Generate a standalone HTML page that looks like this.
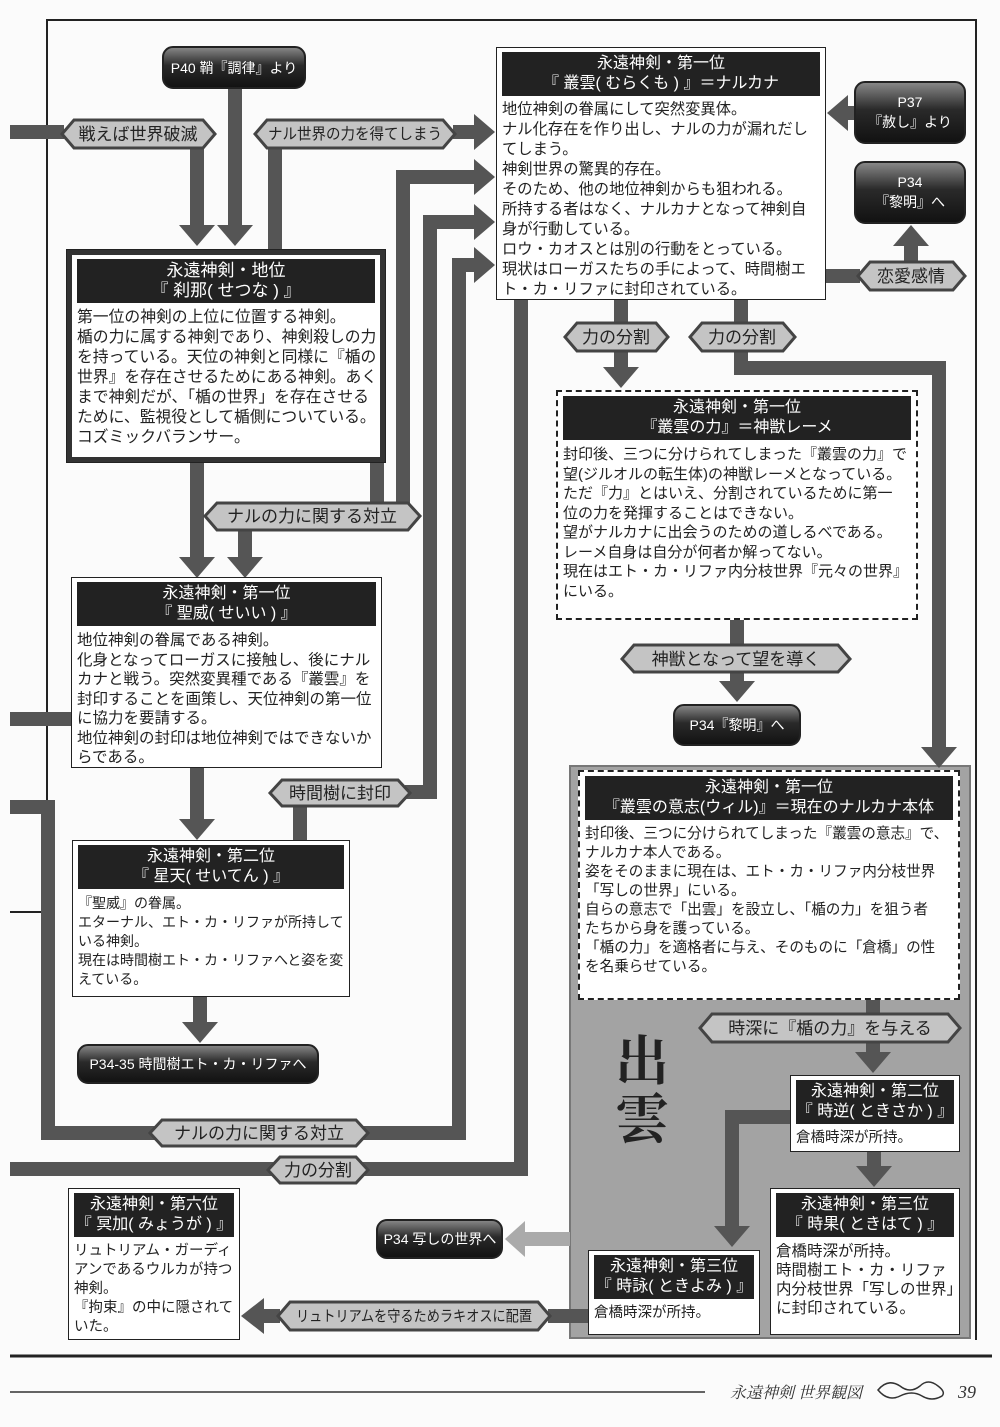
<!DOCTYPE html>
<html><head><meta charset="utf-8">
<style>
*{margin:0;padding:0;box-sizing:border-box}
body{width:1000px;height:1427px;background:#fbfbfb;position:relative;overflow:hidden;font-family:"Liberation Sans","Noto Sans CJK JP",sans-serif;color:#222}
svg{position:absolute;left:0;top:0}
.box{position:absolute;background:#fff;border:1.5px solid #222;padding:4px 5px;z-index:2}
.thick{border:5px solid #333;outline:1px solid #222}
.dash{border:2.5px dashed #222}
.hd{background:#222;color:#fff;text-align:center;font-size:16px;line-height:20px;padding:2px 0;white-space:nowrap}
.bd{white-space:nowrap;margin-top:5px}
</style></head><body>
<svg width="1000" height="1427" viewBox="0 0 1000 1427">
<defs>
<linearGradient id="bg" x1="0" y1="0" x2="0" y2="1">
<stop offset="0" stop-color="#8a8a8a"/><stop offset="0.45" stop-color="#2a2a2a"/><stop offset="1" stop-color="#111"/>
</linearGradient>
</defs>
<path d="M47 1110 V20 H976 V1340" fill="none" stroke="#222" stroke-width="2"/>
<line x1="10" y1="1356" x2="992" y2="1356" stroke="#222" stroke-width="3"/>
<line x1="10" y1="1392" x2="705" y2="1392" stroke="#333" stroke-width="1.5"/>
<line x1="10" y1="912" x2="47" y2="912" stroke="#222" stroke-width="2"/>
<rect x="570" y="766" width="400" height="572" fill="#a3a3a3" stroke="#777" stroke-width="2"/>
<text x="642" y="1080" font-family="Liberation Serif,'Noto Serif CJK SC',serif" font-size="54" font-weight="bold" text-anchor="middle" fill="#222">出</text>
<text x="642" y="1138" font-family="Liberation Serif,'Noto Serif CJK SC',serif" font-size="54" font-weight="bold" text-anchor="middle" fill="#222">雲</text>
<g fill="none" stroke="#555" stroke-width="14" stroke-linejoin="miter">
<path d="M10 132 H64"/>
<path d="M197 146 V228"/>
<path d="M235 86 V228"/>
<path d="M275 146 V252"/>
<path d="M453 132 H476"/>
<path d="M403 505 V177 H476"/>
<path d="M405 792 H430 V222 H476"/>
<path d="M10 807 H48 V1133 H459 V265 H476"/>
<path d="M10 1169 H521 V300"/>
<path d="M197 462 V560"/>
<path d="M377 462 V505"/>
<path d="M245 528 V560"/>
<path d="M197 768 V822"/>
<path d="M300 805 V842"/>
<path d="M200 997 V1025"/>
<path d="M10 719 H72"/>
<path d="M826 276 H860"/>
<path d="M911 262 V244"/>
<path d="M856 113 H845"/>
<path d="M621 300 V370"/>
<path d="M741 300 V368 H939 V750"/>
<path d="M737 620 V683"/>
<path d="M873 1000 V1055"/>
<path d="M874 1152 V1168"/>
<path d="M790 1117 H732 V1228"/>
<path d="M588 1316 H548"/>
<path d="M280 1316 H262"/>
</g>
<path d="M570 1239 H522" fill="none" stroke="#aaa" stroke-width="14"/>
<g fill="#555">
<polygon points="179,225 215,225 197,246"/>
<polygon points="217,225 253,225 235,246"/>
<polygon points="474,114 474,150 495,132"/>
<polygon points="474,159 474,195 495,177"/>
<polygon points="474,204 474,240 495,222"/>
<polygon points="474,247 474,283 495,265"/>
<polygon points="179,557 215,557 197,578"/>
<polygon points="227,557 263,557 245,578"/>
<polygon points="179,819 215,819 197,840"/>
<polygon points="182,1022 218,1022 200,1043"/>
<polygon points="893,246 929,246 911,225"/>
<polygon points="848,95 848,131 827,113"/>
<polygon points="603,367 639,367 621,388"/>
<polygon points="921,747 957,747 939,768"/>
<polygon points="719,681 755,681 737,702"/>
<polygon points="855,1052 891,1052 873,1073"/>
<polygon points="856,1166 892,1166 874,1187"/>
<polygon points="714,1226 750,1226 732,1247"/>
<polygon points="264,1298 264,1334 241,1316"/>
</g>
<polygon points="525,1221 525,1257 505,1239" fill="#aaa"/>
<g stroke="#444" stroke-width="3" fill="#c4c4c4">
<polygon points="62,134 74,120 203,120 215,134 203,148 74,148"/>
<polygon points="255,134 267,120 443,120 455,134 443,148 267,148"/>
<polygon points="205,516 217,503 408,503 420,516 408,530 217,530"/>
<polygon points="270,793 282,780 398,780 410,793 398,806 282,806"/>
<polygon points="150,1133 162,1120 356,1120 368,1133 356,1146 162,1146"/>
<polygon points="268,1170 280,1157 356,1157 368,1170 356,1183 280,1183"/>
<polygon points="565,337 577,323 656,323 668,337 656,351 577,351"/>
<polygon points="690,337 702,323 783,323 795,337 783,351 702,351"/>
<polygon points="858,276 870,262 953,262 965,276 953,290 870,290"/>
<polygon points="622,659 634,645 838,645 850,659 838,672 634,672"/>
<polygon points="700,1028 712,1014 948,1014 960,1028 948,1042 712,1042"/>
<polygon points="278,1316 290,1302 538,1302 550,1316 538,1330 290,1330"/>
</g>
<g font-size="17" fill="#222" text-anchor="middle" font-family="Liberation Sans,'Noto Sans CJK JP',sans-serif">
<text x="138" y="140">戦えば世界破滅</text>
<text x="355" y="139" font-size="15.5" textLength="174" lengthAdjust="spacingAndGlyphs">ナル世界の力を得てしまう</text>
<text x="312" y="522">ナルの力に関する対立</text>
<text x="340" y="799">時間樹に封印</text>
<text x="259" y="1139">ナルの力に関する対立</text>
<text x="318" y="1176">力の分割</text>
<text x="616" y="343">力の分割</text>
<text x="742" y="343">力の分割</text>
<text x="911" y="282">恋愛感情</text>
<text x="736" y="665">神獣となって望を導く</text>
<text x="830" y="1034">時深に『楯の力』を与える</text>
<text x="414" y="1321" font-size="15" textLength="236" lengthAdjust="spacingAndGlyphs">リュトリアムを守るためラキオスに配置</text>
</g>
<g stroke="#222" stroke-width="2" fill="url(#bg)">
<rect x="163" y="47" width="142" height="41" rx="10"/>
<rect x="855" y="82" width="110" height="61" rx="10"/>
<rect x="855" y="162" width="110" height="61" rx="10"/>
<rect x="674" y="705" width="126" height="40" rx="10"/>
<rect x="78" y="1045" width="240" height="38" rx="10"/>
<rect x="377" y="1220" width="125" height="38" rx="10"/>
</g>
<g font-size="14" fill="#fff" text-anchor="middle" font-family="Liberation Sans,'Noto Sans CJK JP',sans-serif">
<text x="234" y="73">P40 鞘『調律』より</text>
<text x="910" y="107">P37</text><text x="910" y="127">『赦し』より</text>
<text x="910" y="187">P34</text><text x="910" y="207">『黎明』へ</text>
<text x="737" y="730">P34『黎明』へ</text>
<text x="198" y="1069">P34-35 時間樹エト・カ・リファへ</text>
<text x="440" y="1244">P34 写しの世界へ</text>
</g>
<text x="730" y="1398" font-family="Liberation Serif,'Noto Serif CJK JP',serif" font-style="italic" font-size="16" fill="#333">永遠神剣 世界観図</text>
<path d="M878 1390 q10 -12 22 -4 q10 8 20 0 q8 -8 18 0 q8 6 4 10 q-10 6 -20 0 q-10 -6 -22 0 q-12 6 -22 -6z" fill="none" stroke="#333" stroke-width="1.5"/>
<text x="958" y="1398" font-family="Liberation Serif,serif" font-style="italic" font-size="18" fill="#333">39</text>
</svg>

<div class="box thick" style="left:67px;top:250px;width:318px;height:212px;padding:4px 5px">
<div class="hd" style="font-size:17px">永遠神剣・地位<br>『 刹那( せつな ) 』</div>
<div class="bd" style="font-size:15.8px;line-height:20px">第一位の神剣の上位に位置する神剣。<br>楯の力に属する神剣であり、神剣殺しの力<br>を持っている。天位の神剣と同様に『楯の<br>世界』を存在させるためにある神剣。あく<br>まで神剣だが、「楯の世界」を存在させる<br>ために、監視役として楯側についている。<br>コズミックバランサー。</div>
</div>
<div class="box" style="left:71px;top:577px;width:311px;height:191px">
<div class="hd">永遠神剣・第一位<br>『 聖威( せいい ) 』</div>
<div class="bd" style="font-size:15.5px;line-height:19.5px">地位神剣の眷属である神剣。<br>化身となってローガスに接触し、後にナル<br>カナと戦う。突然変異種である『叢雲』を<br>封印することを画策し、天位神剣の第一位<br>に協力を要請する。<br>地位神剣の封印は地位神剣ではできないか<br>らである。</div>
</div>
<div class="box" style="left:72px;top:840px;width:278px;height:157px">
<div class="hd">永遠神剣・第二位<br>『 星天( せいてん ) 』</div>
<div class="bd" style="font-size:14px;line-height:19px">『聖威』の眷属。<br>エターナル、エト・カ・リファが所持して<br>いる神剣。<br>現在は時間樹エト・カ・リファへと姿を変<br>えている。</div>
</div>
<div class="box" style="left:68px;top:1188px;width:172px;height:152px">
<div class="hd">永遠神剣・第六位<br>『 冥加( みょうが ) 』</div>
<div class="bd" style="font-size:14.5px;line-height:19px">リュトリアム・ガーディ<br>アンであるウルカが持つ<br>神剣。<br>『拘束』の中に隠されて<br>いた。</div>
</div>
<div class="box" style="left:496px;top:47px;width:330px;height:253px">
<div class="hd">永遠神剣・第一位<br>『 叢雲( むらくも ) 』＝ナルカナ</div>
<div class="bd" style="font-size:15.3px;line-height:20px;margin-top:4px">地位神剣の眷属にして突然変異体。<br>ナル化存在を作り出し、ナルの力が漏れだし<br>てしまう。<br>神剣世界の驚異的存在。<br>そのため、他の地位神剣からも狙われる。<br>所持する者はなく、ナルカナとなって神剣自<br>身が行動している。<br>ロウ・カオスとは別の行動をとっている。<br>現状はローガスたちの手によって、時間樹エ<br>ト・カ・リファに封印されている。</div>
</div>
<div class="box dash" style="left:556px;top:390px;width:362px;height:230px">
<div class="hd">永遠神剣・第一位<br>『叢雲の力』＝神獣レーメ</div>
<div class="bd" style="font-size:15px;line-height:19.5px">封印後、三つに分けられてしまった『叢雲の力』で<br>望(ジルオルの転生体)の神獣レーメとなっている。<br>ただ『力』とはいえ、分割されているために第一<br>位の力を発揮することはできない。<br>望がナルカナに出会うのための道しるべである。<br>レーメ自身は自分が何者か解ってない。<br>現在はエト・カ・リファ内分枝世界『元々の世界』<br>にいる。</div>
</div>
<div class="box dash" style="left:578px;top:770px;width:382px;height:230px">
<div class="hd">永遠神剣・第一位<br>『叢雲の意志(ウィル)』＝現在のナルカナ本体</div>
<div class="bd" style="font-size:14.6px;line-height:19px">封印後、三つに分けられてしまった『叢雲の意志』で、<br>ナルカナ本人である。<br>姿をそのままに現在は、エト・カ・リファ内分枝世界<br>「写しの世界」にいる。<br>自らの意志で「出雲」を設立し、「楯の力」を狙う者<br>たちから身を護っている。<br>「楯の力」を適格者に与え、そのものに「倉橋」の性<br>を名乗らせている。</div>
</div>
<div class="box" style="left:790px;top:1075px;width:170px;height:77px">
<div class="hd">永遠神剣・第二位<br>『 時逆( ときさか ) 』</div>
<div class="bd" style="font-size:14.5px;line-height:19px">倉橋時深が所持。</div>
</div>
<div class="box" style="left:770px;top:1188px;width:190px;height:147px">
<div class="hd">永遠神剣・第三位<br>『 時果( ときはて ) 』</div>
<div class="bd" style="font-size:15.5px;line-height:19px">倉橋時深が所持。<br>時間樹エト・カ・リファ<br>内分枝世界「写しの世界」<br>に封印されている。</div>
</div>
<div class="box" style="left:588px;top:1250px;width:172px;height:85px">
<div class="hd">永遠神剣・第三位<br>『 時詠( ときよみ ) 』</div>
<div class="bd" style="font-size:14.5px;line-height:19px">倉橋時深が所持。</div>
</div>
</body></html>
